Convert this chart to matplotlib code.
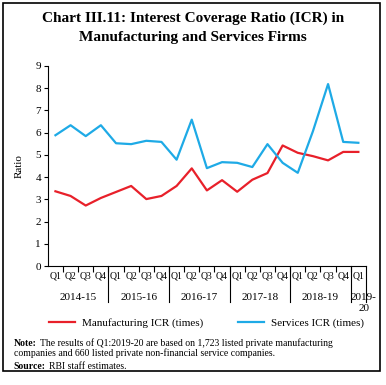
import matplotlib.pyplot as plt
from matplotlib.patches import Rectangle
import matplotlib.transforms as mtransforms

plt.rcParams['font.family'] = ['Liberation Serif', 'DejaVu Serif']

quarters = ['Q1', 'Q2', 'Q3', 'Q4'] * 5 + ['Q1']
years = ['2014-15', '2015-16', '2016-17', '2017-18', '2018-19', '2019-\n20']
year_sizes = [4, 4, 4, 4, 4, 1]

manufacturing = [3.36, 3.15, 2.72, 3.06, 3.33, 3.60, 3.01, 3.15, 3.60, 4.39,
                 3.40, 3.86, 3.34, 3.88, 4.18, 5.42, 5.09, 4.94, 4.75, 5.13, 5.13]
services = [5.88, 6.33, 5.84, 6.33, 5.52, 5.48, 5.63, 5.58, 4.78, 6.58,
            4.40, 4.67, 4.64, 4.45, 5.48, 4.64, 4.19, 6.06, 8.18, 5.58, 5.54]

red = '#e8202a'
blue = '#1eaae6'

fig = plt.figure(figsize=(3.86, 3.85), dpi=100)
ax = fig.add_axes([0.124, 0.309, 0.824, 0.52])

x = range(len(quarters))
ax.plot(x, manufacturing, color=red, lw=1.6, label='Manufacturing ICR (times)')
ax.plot(x, services, color=blue, lw=1.6, label='Services ICR (times)')

ax.set_xlim(-0.5, len(quarters) - 0.5)
ax.set_ylim(0, 9)
ax.set_yticks(range(0, 10))
ax.tick_params(axis='y', labelsize=8, length=3, width=0.8, pad=2)
ax.set_ylabel('Ratio', fontsize=8, labelpad=8)

ax.set_xticks(list(x))
ax.set_xticklabels(quarters, fontsize=7)
ax.tick_params(axis='x', which='major', length=0, pad=4)
ax.set_xticks([i + 0.5 for i in range(len(quarters) - 1)], minor=True)
ax.tick_params(axis='x', which='minor', length=4, width=0.8, direction='out')

for s in ['top', 'right']:
    ax.spines[s].set_visible(False)
ax.spines['left'].set_linewidth(0.8)
ax.spines['bottom'].set_linewidth(0.8)

# year group separators and labels
trans = mtransforms.blended_transform_factory(ax.transData, ax.transAxes)
bounds = [-0.5]
for n in year_sizes:
    bounds.append(bounds[-1] + n)
for b in bounds[1:]:
    ax.plot([b, b], [0, -0.18], color='black', lw=0.8, transform=trans, clip_on=False)
for i, yr in enumerate(years):
    mid = (bounds[i] + bounds[i + 1]) / 2
    if i == len(years) - 1:
        mid += 0.35
    ax.text(mid, -0.135, yr, transform=trans, ha='center', va='top', fontsize=8,
            linespacing=1.25)

fig.legend(loc='center', bbox_to_anchor=(0.535, 0.161), ncol=2, frameon=False,
           fontsize=8, handlelength=2.3, handletextpad=0.6, columnspacing=3.2)

fig.text(0.5, 0.928, 'Chart III.11: Interest Coverage Ratio (ICR) in\nManufacturing and Services Firms',
         ha='center', va='center', fontsize=11, fontweight='bold', linespacing=1.6)

# note and source: bold lead-in followed by regular text
renderer = fig.canvas.get_renderer()
fs = 7


def lead_text(y, bold, rest):
    t = fig.text(0.036, y, bold, fontsize=fs, fontweight='bold', va='center')
    bb = t.get_window_extent(renderer).transformed(fig.transFigure.inverted())
    fig.text(bb.x1 + 0.008, y, rest, fontsize=fs, va='center')


lead_text(0.109, 'Note:', 'The results of Q1:2019-20 are based on 1,723 listed private manufacturing')
fig.text(0.036, 0.083, 'companies and 660 listed private non-financial service companies.',
         fontsize=fs, va='center')
lead_text(0.047, 'Source:', 'RBI staff estimates.')

fig.patches.append(Rectangle((0.008, 0.036), 0.977, 0.956, transform=fig.transFigure,
                             fill=False, edgecolor='black', lw=1.2))

fig.savefig('out.png', dpi=100)
